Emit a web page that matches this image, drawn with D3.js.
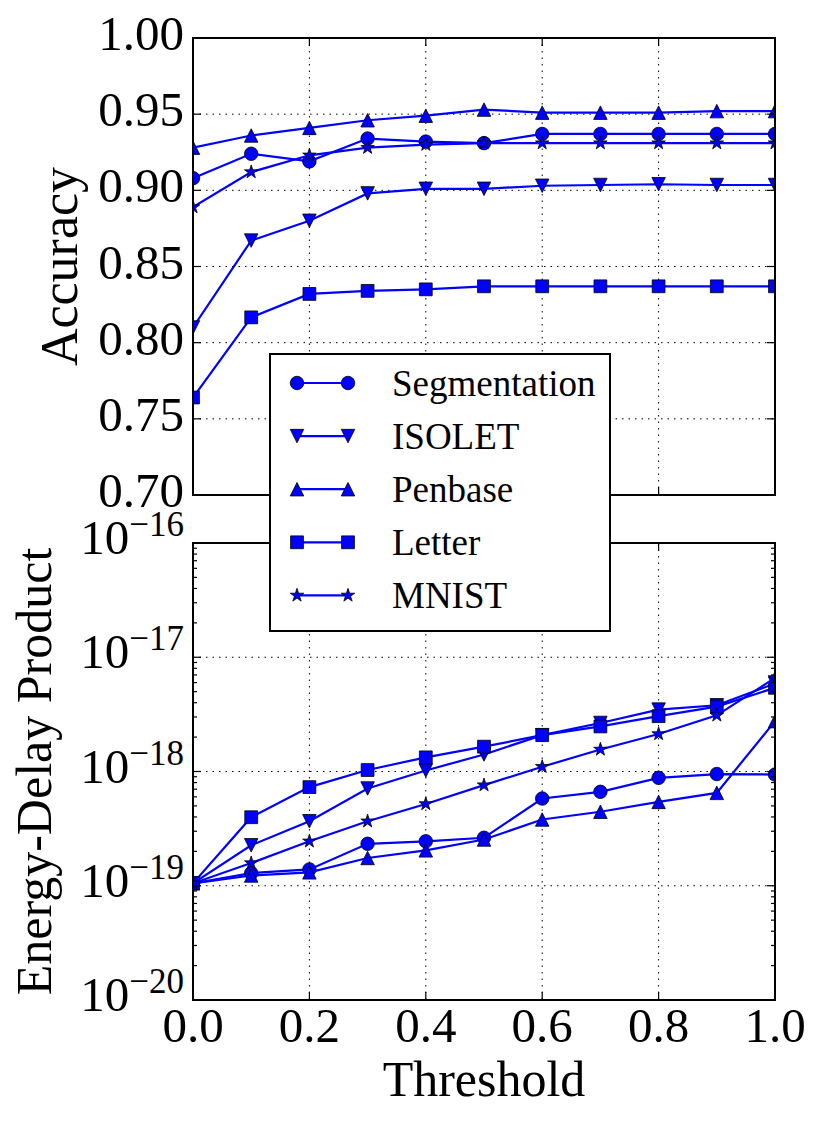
<!DOCTYPE html>
<html>
<head>
<meta charset="utf-8">
<script src="https://cdn.jsdelivr.net/npm/d3@7"></script>
<style>
  body { margin: 0; background: #fff; }
  svg { display: block; font-family: "Liberation Serif", "DejaVu Serif", serif; }
</style>
</head>
<body>
<div id="chart"></div>
<script>
const thresholds = [0.0, 0.1, 0.2, 0.3, 0.4, 0.5, 0.6, 0.7, 0.8, 0.9, 1.0];
const seriesNames = ["Segmentation", "ISOLET", "Penbase", "Letter", "MNIST"];

const accSegmentation = [0.908, 0.924, 0.919, 0.934, 0.932, 0.931, 0.937, 0.937, 0.937, 0.937, 0.937];
const accIsolet       = [0.810, 0.867, 0.880, 0.898, 0.901, 0.901, 0.903, 0.9035, 0.904, 0.9035, 0.9035];
const accPenbase      = [0.928, 0.936, 0.941, 0.946, 0.949, 0.953, 0.951, 0.951, 0.951, 0.952, 0.952];
const accLetter       = [0.764, 0.8166, 0.832, 0.834, 0.835, 0.837, 0.837, 0.837, 0.837, 0.837, 0.837];
const accMnist        = [0.889, 0.912, 0.923, 0.928, 0.930, 0.931, 0.931, 0.931, 0.931, 0.931, 0.931];

const edpSegmentation = [1.05e-19, 1.29e-19, 1.39e-19, 2.33e-19, 2.45e-19, 2.63e-19, 5.8e-19, 6.64e-19, 8.8e-19, 9.5e-19, 9.4e-19];
const edpIsolet       = [1.05e-19, 2.26e-19, 3.67e-19, 7.1e-19, 1.02e-18, 1.41e-18, 2.08e-18, 2.66e-18, 3.48e-18, 3.8e-18, 5.9e-18];
const edpPenbase      = [1.05e-19, 1.23e-19, 1.31e-19, 1.75e-19, 2.04e-19, 2.54e-19, 3.8e-19, 4.44e-19, 5.42e-19, 6.5e-19, 2.76e-18];
const edpLetter       = [1.05e-19, 3.98e-19, 7.3e-19, 1.03e-18, 1.33e-18, 1.65e-18, 2.08e-18, 2.48e-18, 3.05e-18, 3.7e-18, 5.4e-18];
const edpMnist        = [1.05e-19, 1.58e-19, 2.45e-19, 3.67e-19, 5.2e-19, 7.6e-19, 1.1e-18, 1.56e-18, 2.13e-18, 3.1e-18, 6.6e-18];

const accTicks = [0.70, 0.75, 0.80, 0.85, 0.90, 0.95, 1.00];
const thresholdTicks = [0.0, 0.2, 0.4, 0.6, 0.8, 1.0];

const accSeries = [accSegmentation, accIsolet, accPenbase, accLetter, accMnist];
const edpSeries = [edpSegmentation, edpIsolet, edpPenbase, edpLetter, edpMnist];

// ---- look ----
const BLUE = "#0000ff";
const markerKinds = ["circle", "triDown", "triUp", "square", "star"];
const left = 193, right = 775;
const topPanel = { y0: 38, y1: 495 };
const botPanel = { y0: 543, y1: 1000 };

// matplotlib-ish marker shapes, s = full width in px
const shapes = {
  circle: { draw(ctx, s) { const r = s / 2; ctx.moveTo(r, 0); ctx.arc(0, 0, r, 0, 2 * Math.PI); } },
  square: { draw(ctx, s) { const r = s / 2 * 0.95; ctx.rect(-r, -r, 2 * r, 2 * r); } },
  triUp: { draw(ctx, s) { const r = s / 2; ctx.moveTo(0, -r); ctx.lineTo(r, r); ctx.lineTo(-r, r); ctx.closePath(); } },
  triDown: { draw(ctx, s) { const r = s / 2; ctx.moveTo(0, r); ctx.lineTo(r, -r); ctx.lineTo(-r, -r); ctx.closePath(); } },
  star: { draw(ctx, s) {
    const R = s / 2 * 1.05, ri = R * 0.381966;
    for (let i = 0; i < 10; i++) {
      const a = -Math.PI / 2 + i * Math.PI / 5;
      const rr = i % 2 ? ri : R;
      if (i == 0) ctx.moveTo(rr * Math.cos(a), rr * Math.sin(a));
      else ctx.lineTo(rr * Math.cos(a), rr * Math.sin(a));
    }
    ctx.closePath();
  } }
};
const markerPath = (kind) => d3.symbol().type(shapes[kind]).size(13.5)();

const svg = d3.select("#chart").append("svg")
  .attr("width", 823).attr("height", 1125);
svg.append("rect").attr("width", 823).attr("height", 1125).attr("fill", "#fff");

const x = d3.scaleLinear().domain([0, 1]).range([left, right]);
const yAcc = d3.scaleLinear().domain([0.70, 1.00]).range([topPanel.y1, topPanel.y0]);
const yEdp = d3.scaleLog().domain([1e-20, 1e-16]).range([botPanel.y1, botPanel.y0]);

const isDecade = d => { const l = Math.log10(d); return Math.abs(l - Math.round(l)) < 1e-6; };

function drawPanel(panel, yScale, series, id, isLog) {
  const g = svg.append("g");
  const h = panel.y1 - panel.y0;

  // grid
  const gridY = isLog ? yScale.ticks().filter(isDecade) : accTicks;
  g.selectAll(".gx").data(thresholdTicks).enter().append("line")
    .attr("x1", d => x(d)).attr("x2", d => x(d))
    .attr("y1", panel.y0).attr("y2", panel.y1)
    .attr("stroke", "#000").attr("stroke-width", 1).attr("stroke-dasharray", "1.5,5");
  g.selectAll(".gy").data(gridY).enter().append("line")
    .attr("x1", left).attr("x2", right)
    .attr("y1", d => yScale(d)).attr("y2", d => yScale(d))
    .attr("stroke", "#000").attr("stroke-width", 1).attr("stroke-dasharray", "1.5,5");

  // series
  g.append("clipPath").attr("id", id)
    .append("rect").attr("x", left).attr("y", panel.y0).attr("width", right - left).attr("height", h);
  const plot = g.append("g").attr("clip-path", `url(#${id})`);
  const line = d3.line().x((d, i) => x(thresholds[i])).y(d => yScale(d));
  series.forEach((vals, k) => {
    const s = plot.append("g");
    s.append("path").datum(vals).attr("d", line)
      .attr("fill", "none").attr("stroke", BLUE).attr("stroke-width", 2.2);
    s.selectAll("path.m").data(vals).enter().append("path").attr("class", "m")
      .attr("transform", (d, i) => `translate(${x(thresholds[i])},${yScale(d)})`)
      .attr("d", markerPath(markerKinds[k]))
      .attr("fill", BLUE).attr("stroke", "#000").attr("stroke-width", 0.8);
  });

  // ticks (inward, all four sides)
  const tickSize = d => (!isLog || isDecade(d)) ? 8 : 4;
  const yt = isLog ? yScale.ticks() : accTicks;
  g.selectAll(".tl").data(yt).enter().append("line")
    .attr("x1", left).attr("x2", d => left + tickSize(d))
    .attr("y1", d => yScale(d)).attr("y2", d => yScale(d))
    .attr("stroke", "#000").attr("stroke-width", 1.2);
  g.selectAll(".tr").data(yt).enter().append("line")
    .attr("x1", right).attr("x2", d => right - tickSize(d))
    .attr("y1", d => yScale(d)).attr("y2", d => yScale(d))
    .attr("stroke", "#000").attr("stroke-width", 1.2);
  g.selectAll(".tt").data(thresholdTicks).enter().append("line")
    .attr("x1", d => x(d)).attr("x2", d => x(d))
    .attr("y1", panel.y0).attr("y2", panel.y0 + 8)
    .attr("stroke", "#000").attr("stroke-width", 1.2);
  g.selectAll(".tb").data(thresholdTicks).enter().append("line")
    .attr("x1", d => x(d)).attr("x2", d => x(d))
    .attr("y1", panel.y1).attr("y2", panel.y1 - 8)
    .attr("stroke", "#000").attr("stroke-width", 1.2);

  // frame
  g.append("rect").attr("x", left).attr("y", panel.y0)
    .attr("width", right - left).attr("height", h)
    .attr("fill", "none").attr("stroke", "#000").attr("stroke-width", 2);

  // y tick labels
  if (!isLog) {
    g.selectAll(".yl").data(accTicks).enter().append("text")
      .attr("x", left - 9).attr("y", d => yScale(d) + 12)
      .attr("text-anchor", "end").attr("font-size", 49)
      .text(d => d3.format(".2f")(d));
  } else {
    const lab = g.selectAll(".yl").data(gridY).enter().append("text")
      .attr("text-anchor", "end").attr("font-size", 49)
      .attr("x", left - 9).attr("y", d => yScale(d) + 11);
    lab.append("tspan").text("10");
    lab.append("tspan").attr("font-size", 35).attr("dy", -18)
      .text(d => "\u2212" + Math.abs(Math.round(Math.log10(d))));
  }
  return g;
}

drawPanel(topPanel, yAcc, accSeries, "clipTop", false);
drawPanel(botPanel, yEdp, edpSeries, "clipBot", true);

// x tick labels (bottom panel only)
svg.selectAll(".xl").data(thresholdTicks).enter().append("text")
  .attr("x", d => x(d)).attr("y", 1042)
  .attr("text-anchor", "middle").attr("font-size", 49)
  .text(d => d3.format(".1f")(d));

// axis titles
svg.append("text").attr("x", (left + right) / 2).attr("y", 1096)
  .attr("text-anchor", "middle").attr("font-size", 50).text("Threshold");
svg.append("text").attr("transform", `translate(77,${(topPanel.y0 + topPanel.y1) / 2}) rotate(-90)`)
  .attr("text-anchor", "middle").attr("font-size", 52).text("Accuracy");
svg.append("text").attr("transform", `translate(51,${(botPanel.y0 + botPanel.y1) / 2}) rotate(-90)`)
  .attr("text-anchor", "middle").attr("font-size", 50).text("Energy-Delay Product");

// legend
const leg = svg.append("g");
leg.append("rect").attr("x", 270).attr("y", 354).attr("width", 340).attr("height", 277)
  .attr("fill", "#fff").attr("stroke", "#000").attr("stroke-width", 2);
const rows = leg.selectAll(".row").data(seriesNames).enter().append("g")
  .attr("transform", (d, i) => `translate(0,${383 + i * 53.1})`);
rows.append("line").attr("x1", 297).attr("x2", 348).attr("y1", 0).attr("y2", 0)
  .attr("stroke", BLUE).attr("stroke-width", 2.2);
[297, 348].forEach(mx => {
  rows.append("path").attr("transform", `translate(${mx},0)`)
    .attr("d", (d, i) => markerPath(markerKinds[i]))
    .attr("fill", BLUE).attr("stroke", "#000").attr("stroke-width", 0.8);
});
rows.append("text").attr("x", 392).attr("y", 13).attr("font-size", 37).text(d => d);
</script>
</body>
</html>
